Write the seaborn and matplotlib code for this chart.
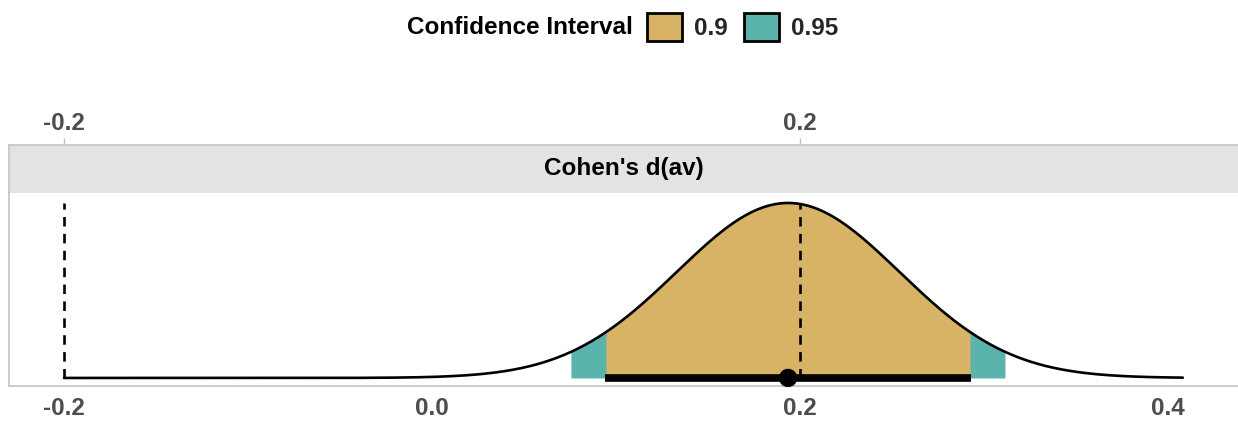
import numpy as np
import pandas as pd
import seaborn as sns
import matplotlib.pyplot as plt
from matplotlib.patches import Patch

# values
estimate = 0.1935
ci_90 = [0.094, 0.293]
ci_95 = [0.075, 0.312]
bounds = [-0.2, 0.2]
curve_range = [-0.2, 0.408]
ci_levels = ["0.9", "0.95"]
ci_colors = ["#d8b365", "#5ab4ac"]
bottom_ticks = [-0.2, 0.0, 0.2, 0.4]
bottom_labels = ["-0.2", "0.0", "0.2", "0.4"]
top_labels = ["-0.2", "0.2"]
panel_title = "Cohen's d(av)"

# consonance density implied by the estimate and its CI (normal, peak scaled to 1)
se = (ci_95[1] - ci_95[0]) / 2 / 1.96
x = np.linspace(curve_range[0], curve_range[1], 800)
curve = pd.DataFrame({"x": x, "density": np.exp(-0.5 * ((x - estimate) / se) ** 2)})

sns.set_style("white")
plt.rcParams['font.family'] = ['Liberation Sans', 'DejaVu Sans']

W, H = 1238, 421
fig = plt.figure(figsize=(W / 100, H / 100), dpi=100)
left, width = 9 / W, 1229 / W
xlim = (-0.2299, 0.438)
grey = "#c4c4c4"
txt_grey = "#4d4d4d"
fs = 17.5

# main panel
ax = fig.add_axes([left, 1 - 386 / H, width, (386 - 193) / H])
for lo_hi, col in [(ci_95, ci_colors[1]), (ci_90, ci_colors[0])]:
    m = (curve.x >= lo_hi[0]) & (curve.x <= lo_hi[1])
    ax.fill_between(curve.x[m], 0, curve.density[m], color=col, lw=0)
sns.lineplot(data=curve, x="x", y="density", color="black", lw=1.9, ax=ax, zorder=3)
ax.vlines(bounds, 0, 1.0, colors="black", lw=1.9, linestyles=(0, (3.6, 2.8)), zorder=4)
ax.plot(ci_90, [0, 0], color="black", lw=5.5, solid_capstyle="butt", zorder=5)
sns.scatterplot(x=[estimate], y=[0], color="black", s=175, edgecolor="none",
                ax=ax, zorder=6, clip_on=False)

ax.set_xlim(*xlim)
ax.set_ylim(-0.046, 1.057)
ax.set_xticks(bottom_ticks)
ax.set_xticklabels(bottom_labels, fontsize=fs, fontweight="bold", color=txt_grey)
ax.set_yticks([])
ax.set_xlabel("")
ax.set_ylabel("")
ax.tick_params(axis="x", length=5, width=1, color=grey, pad=3)
for s in ["top", "right"]:
    ax.spines[s].set_visible(False)
for s in ["left", "bottom"]:
    ax.spines[s].set_color(grey)
    ax.spines[s].set_linewidth(1.2)

# facet strip with the top axis (equivalence bounds)
sx = fig.add_axes([left, 1 - 193 / H, width, (193 - 145) / H])
sx.set_facecolor("#e3e3e3")
sx.set_xlim(*xlim)
sx.set_ylim(0, 1)
sx.set_yticks([])
sx.xaxis.tick_top()
sx.set_xticks(bounds)
sx.set_xticklabels(top_labels, fontsize=fs, fontweight="bold", color=txt_grey)
sx.tick_params(axis="x", length=5, width=1, color=grey, pad=2)
for s in ["bottom", "right"]:
    sx.spines[s].set_visible(False)
for s in ["top", "left"]:
    sx.spines[s].set_color(grey)
    sx.spines[s].set_linewidth(1.2)
sx.text(0.5, 0.5, panel_title, ha="center", va="center",
        fontsize=fs, fontweight="bold", color="black", transform=sx.transAxes)

# legend
fig.text(633 / W, 1 - 28 / H, "Confidence Interval", ha="right", va="center",
         fontsize=fs, fontweight="bold", color="black")
handles = [Patch(facecolor=c, edgecolor="black", lw=2, label=l)
           for c, l in zip(ci_colors, ci_levels)]
fig.legend(handles=handles, loc="center left", bbox_to_anchor=(647 / W, 1 - 27 / H),
           ncol=2, frameon=False, prop={"size": fs, "weight": "bold"},
           handlelength=1.45, handleheight=1.45, handletextpad=0.5,
           columnspacing=0.65, borderpad=0, borderaxespad=0)

fig.savefig("out.png", dpi=100)
